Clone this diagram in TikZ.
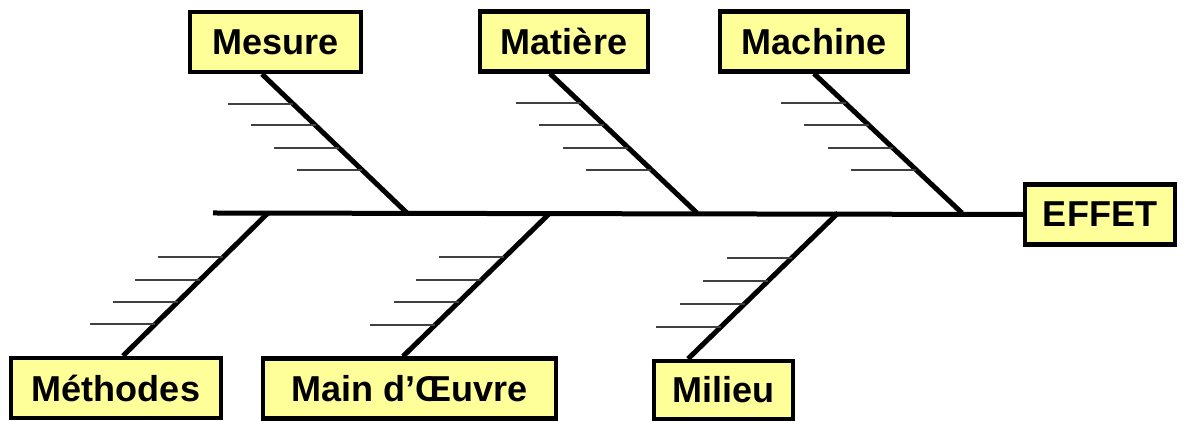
\documentclass[tikz,border=0pt]{standalone}
\usepackage{fontspec}
\setmainfont{Liberation Sans}
\usetikzlibrary{calc}
\definecolor{boxfill}{RGB}{255,255,153}
\tikzset{
	cause/.style={draw=black, line width=0.085cm, fill=boxfill, minimum height=1.2cm, inner sep=0pt, font=\fontsize{20.5}{24}\selectfont\bfseries},
	bone/.style={line width=0.1cm},
	rib/.style={line width=0.04cm, draw=black!75},
}
\begin{document}
\begin{tikzpicture}[x=0.02cm, y=-0.02cm]
	\useasboundingbox (0,0) rectangle (1181,421);
	% boxes
	\node (mesure)     at ( 275.5,  42)	[cause, minimum width=3.42cm]	{Mesure};
	\node (matiere)    at ( 564,  41.5)	[cause, minimum width=3.36cm]	{Matière};
	\node (machine)    at ( 814,  41.5)	[cause, minimum width=3.76cm]	{Machine};
	\node (effet)      at (1100, 214.5)	[cause, minimum width=3.00cm]	{EFFET};
	\node (methodes)   at ( 116, 388)	[cause, minimum width=4.20cm]	{Méthodes};
	\node (mainoeuvre) at ( 409.5, 388.5)	[cause, minimum width=5.86cm]	{Main d’Œuvre\hspace{0.28cm}};
	\node (milieu)     at ( 723.5, 390)	[cause, minimum width=2.78cm, minimum height=1.16cm]	{Milieu};
	% spine
	\coordinate (tail) at (213, 213);
	\draw[bone] (tail) -- (effet.west);
	% upper bones
	\foreach \b/\dx/\jx in {mesure/-13.5/407, matiere/-14/697, machine/0/962} {
		\coordinate (\b T) at ($(\b.south)+(\dx,0)$);
		\coordinate (\b J) at (\jx, 213);
		\draw[bone] (\b T) -- (\b J);
		\foreach \t in {0.213, 0.369, 0.532, 0.688}
			\draw[rib] ($(\b T)!\t!(\b J)$) -- ++(-65,0);
	}
	% lower bones
	\foreach \b/\dx/\jx in {methodes/7/268, mainoeuvre/-6.5/550, milieu/-35.5/838} {
		\coordinate (\b T) at ($(\b.north)+(\dx,0)$);
		\coordinate (\b J) at (\jx, 213);
		\draw[bone] (\b J) -- (\b T);
		\foreach \t in {0.31, 0.469, 0.621, 0.779}
			\draw[rib] ($(\b J)!\t!(\b T)$) -- ++(-65,0);
	}
\end{tikzpicture}
\end{document}
